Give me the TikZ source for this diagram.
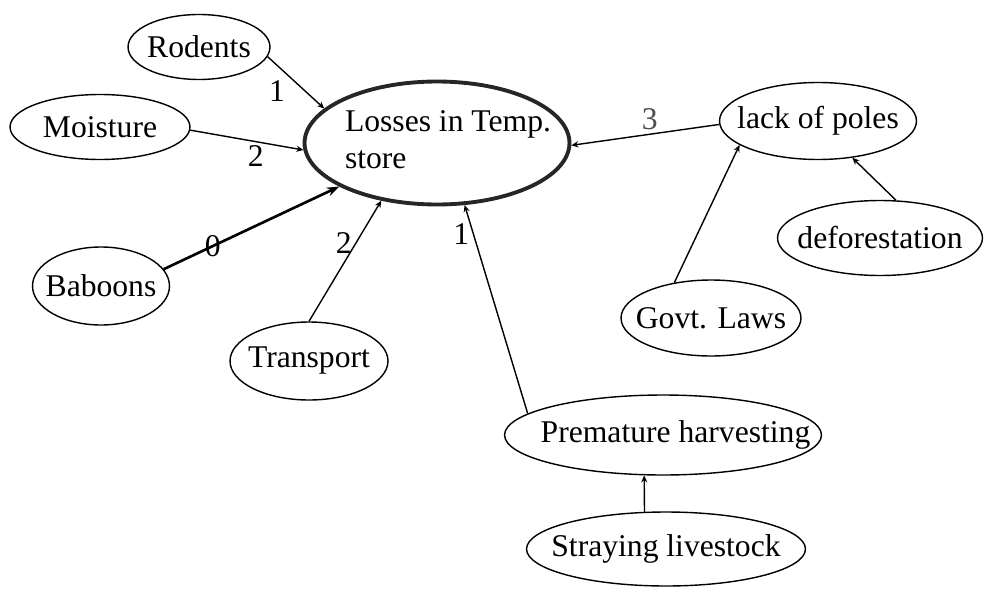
\documentclass[tikz,border=0pt]{standalone}
\usepackage{fontspec}
\setmainfont{Liberation Serif}
\usepackage{tikz}
\usetikzlibrary{shapes.geometric, arrows.meta}

% keeps the ellipse at its own size, whatever the text width
\newcommand{\bubbletext}[1]{\makebox[0pt]{#1}}

\begin{document}
\begin{tikzpicture}[
    x=0.02cm, y=-0.02cm,
    font=\fontsize{18}{21}\selectfont,
    bubble/.style={ellipse, draw=black, line width=0.8pt, inner sep=0pt},
    mainbubble/.style={ellipse, draw=black!85, line width=2.2pt, inner sep=0pt},
    link/.style={-{Stealth[open, length=4pt, width=3.5pt]}, line width=0.8pt},
    strong/.style={-{Stealth[length=7pt, width=5pt]}, line width=1.5pt},
    num/.style={inner sep=2pt}
]
\useasboundingbox (0,0) rectangle (986,588);

% Nodes
\node[mainbubble, minimum width=5.3cm, minimum height=2.46cm] (loss) at (437,143)
    {\bubbletext{\hspace{0.44cm}\begin{tabular}{@{}l@{}}Losses in Temp.\\ store\end{tabular}}};
\node[bubble, minimum width=2.84cm, minimum height=1.3cm] (rod) at (199,47) {\bubbletext{Rodents}};
\node[bubble, minimum width=3.6cm, minimum height=1.3cm] (moi) at (100,127) {\bubbletext{Moisture}};
\node[bubble, minimum width=2.74cm, minimum height=1.56cm] (bab) at (101,286) {\bubbletext{Baboons}};
\node[bubble, minimum width=3.16cm, minimum height=1.56cm] (trans) at (309,361) {\bubbletext{Transport}};
\node[bubble, minimum width=3.94cm, minimum height=1.54cm] (lack) at (818,121) {\bubbletext{lack of poles}};
\node[bubble, minimum width=4.1cm, minimum height=1.5cm] (defo) at (880,238) {\bubbletext{deforestation}};
\node[bubble, minimum width=3.6cm, minimum height=1.52cm] (govt) at (711,318) {\bubbletext{Govt. Laws}};
\node[bubble, minimum width=6.34cm, minimum height=1.6cm] (prem) at (663,435) {\bubbletext{\hspace{0.5cm}Premature harvesting}};
\node[bubble, minimum width=5.58cm, minimum height=1.48cm] (stray) at (666,549) {\bubbletext{Straying livestock}};

% Links
\draw[link] (rod.-8) -- node[num, pos=0.38, below left] (n1) {1} (loss.163);
\draw[link] (moi.-2) -- node[num, pos=0.58, below] (n2) {2} (loss.183);
\draw[strong] (bab.15) -- node[num, pos=0.28, inner sep=0pt] (n3) {0} (loss.204);
\draw[link] (trans.90) -- node[num, pos=0.65, left] (n4) {2} (loss.226);
\draw[link] (prem.171) -- node[num, pos=0.86, left] (n5) {1} (loss.-66);
\draw[link] (lack.182) -- node[num, pos=0.47, above, text=black!70] (n6) {3} (loss.-1);
\draw[link] (govt.136) -- (lack.197);
\draw[link] (defo.67) -- (lack.-47);
\draw[link] (stray.120) -- (prem.-115);

\end{tikzpicture}
\end{document}
